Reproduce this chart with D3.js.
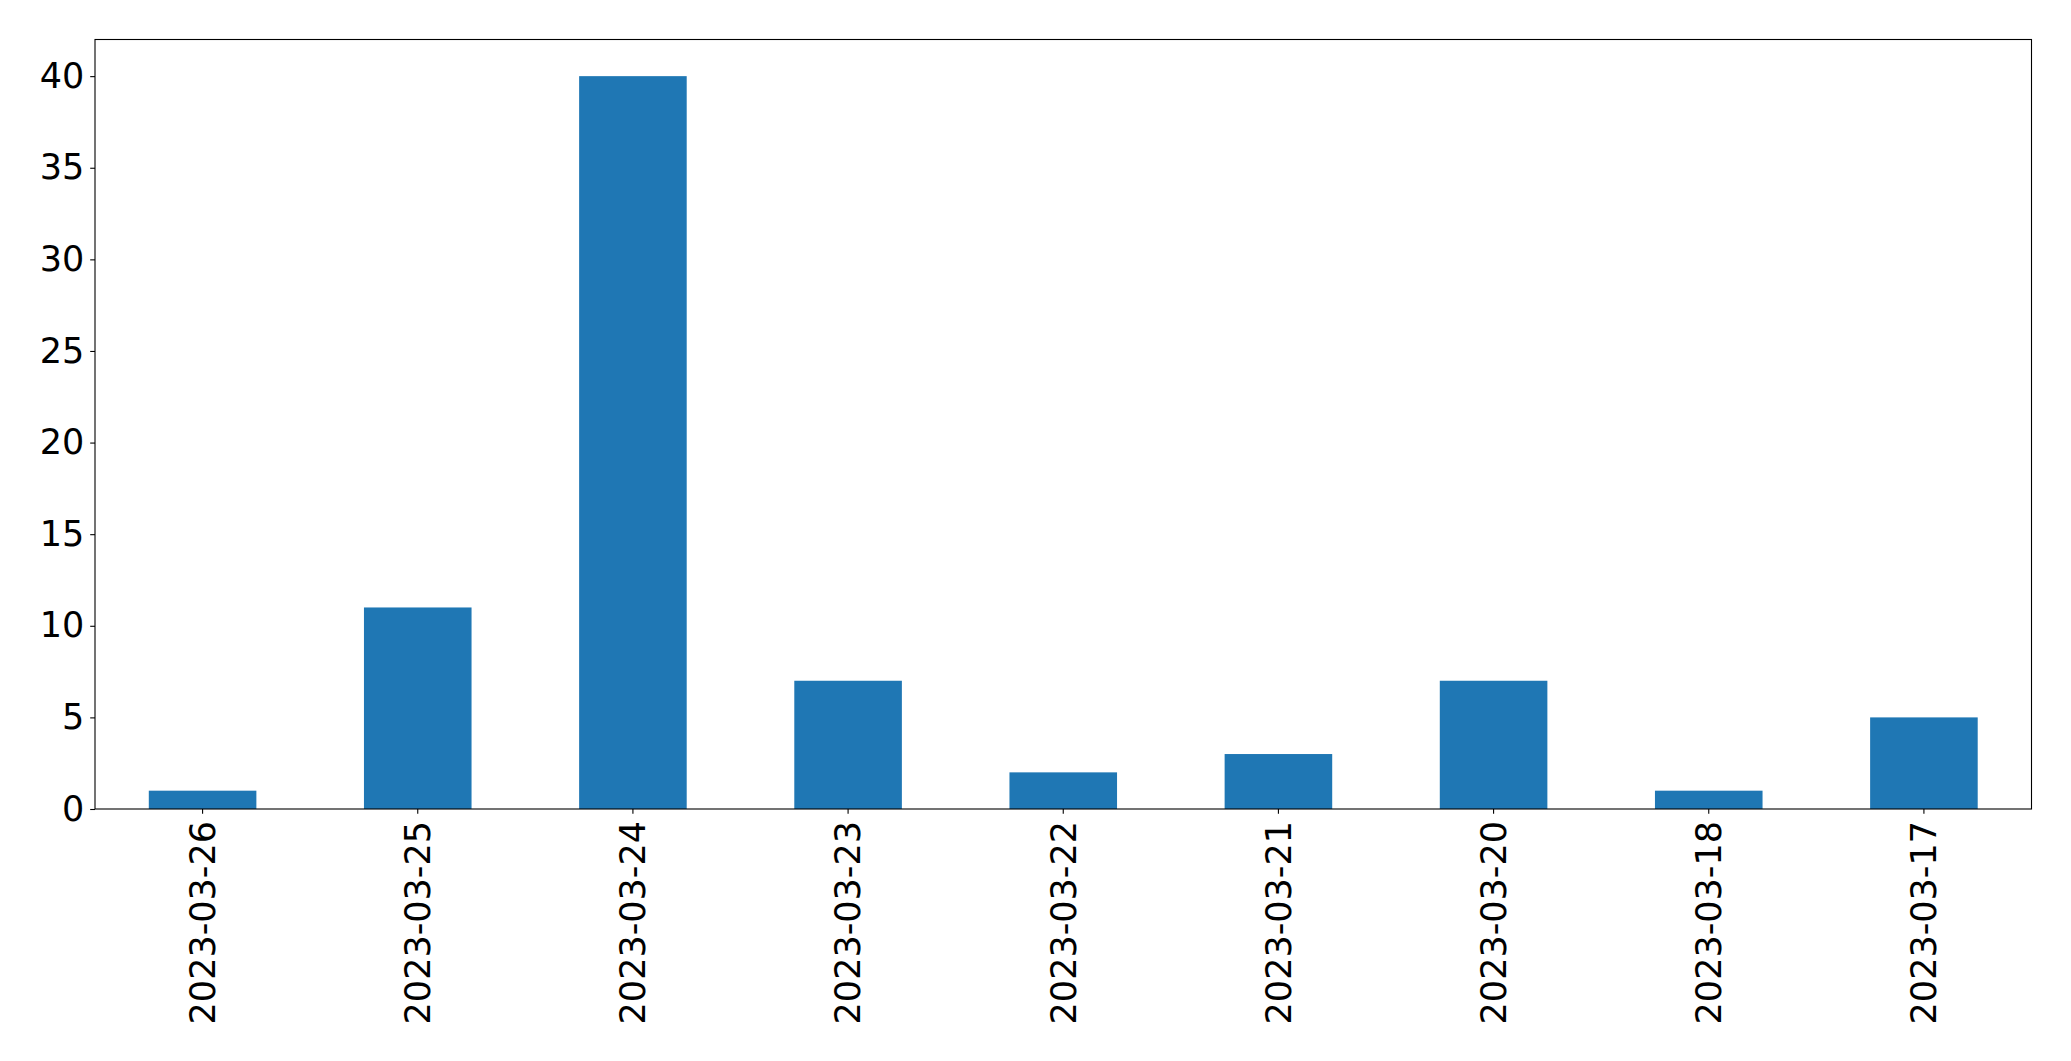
<!DOCTYPE html>
<html><head><meta charset="utf-8">
<script src="https://cdn.jsdelivr.net/npm/d3@7"></script>
<style>body{margin:0;background:#fff}</style>
</head><body>
<script>
const categories = ["2023-03-26","2023-03-25","2023-03-24","2023-03-23","2023-03-22","2023-03-21","2023-03-20","2023-03-18","2023-03-17"];
const values = [1, 11, 40, 7, 2, 3, 7, 1, 5];
const yTicks = [0, 5, 10, 15, 20, 25, 30, 35, 40];

const W = 2071, H = 1061;
const m = {left: 95, right: 2071 - 2031.5, top: 39.5, bottom: 1061 - 809};
const svg = d3.select("body").append("svg").attr("width", W).attr("height", H);
const pw = W - m.left - m.right, ph = H - m.top - m.bottom;
const g = svg.append("g").attr("transform", `translate(${m.left},${m.top})`);

const x = d3.scaleBand().domain(categories).range([0, pw]).paddingInner(0.5).paddingOuter(0.25);
const y = d3.scaleLinear().domain([0, 42]).range([ph, 0]);

g.selectAll("rect.bar").data(values).join("rect")
  .attr("class","bar")
  .attr("x", (d,i) => x(categories[i]))
  .attr("width", x.bandwidth())
  .attr("y", d => y(d))
  .attr("height", d => y(0) - y(d))
  .attr("fill", "#1f77b4");

const fontFam = "DejaVu Sans, sans-serif";
const fs = 35;
const yAxis = g.append("g").call(d3.axisLeft(y).tickValues(yTicks).tickSize(4.8).tickPadding(6));
yAxis.selectAll("text").attr("font-size", fs).attr("font-family", fontFam).attr("fill","#000");
yAxis.selectAll("line").attr("stroke","#000").attr("stroke-width",1.1);
yAxis.select(".domain").remove();

const xAxis = g.append("g").attr("transform", `translate(0,${ph})`)
  .call(d3.axisBottom(x).tickSize(4.8).tickPadding(6));
xAxis.select(".domain").remove();
xAxis.selectAll("line").attr("stroke","#000").attr("stroke-width",1.1);
xAxis.selectAll("text")
  .attr("font-size", fs).attr("font-family", fontFam).attr("fill","#000")
  .attr("transform", "rotate(-90)")
  .attr("text-anchor", "end")
  .attr("x", -12).attr("y", 0).attr("dy", "0.35em");

g.append("rect").attr("x",0).attr("y",0).attr("width",pw).attr("height",ph)
  .attr("fill","none").attr("stroke","#000").attr("stroke-width",1.1);
</script>
</body></html>
